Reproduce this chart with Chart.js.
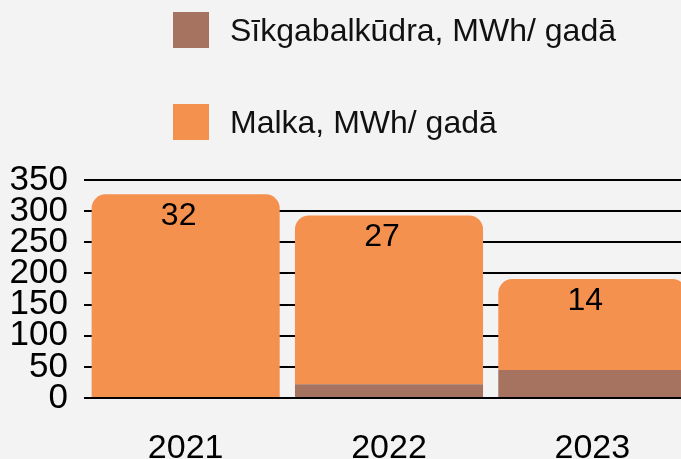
<!DOCTYPE html>
<html>
<head>
<meta charset="utf-8">
<script src="https://cdn.jsdelivr.net/npm/chart.js@4/dist/chart.umd.min.js"></script>
<style>
  body { margin: 0; background: #f3f3f3; overflow: hidden; font-family: "Liberation Sans", Arial, sans-serif; }
  #wrap { position: relative; width: 700px; height: 459px; }
  #legend { position: absolute; left: 0; top: 0; }
  .item { position: absolute; left: 173px; height: 36px; display: flex; align-items: center; white-space: nowrap; }
  .item span.box { width: 36px; height: 36px; display: inline-block; margin-right: 21px; }
  .item span.txt { font-size: 32px; color: #111; }
</style>
</head>
<body>
<div id="wrap">
  <canvas id="energyChart" width="700" height="459"></canvas>
  <div id="legend"></div>
</div>
<script>
const years = ["2021", "2022", "2023"];
const kudraValues = [0, 22, 45];
const malkaValues = [327, 271, 146];
const malkaLabels = ["32", "27", "14"];
const yTicks = [0, 50, 100, 150, 200, 250, 300, 350];

const ctx = document.getElementById("energyChart").getContext("2d");

// value labels on the top segment (clipped like in the source)
const topLabels = {
  id: "topLabels",
  afterDatasetsDraw(chart) {
    const meta = chart.getDatasetMeta(1);
    const c = chart.ctx;
    c.save();
    c.font = '32px "Liberation Sans", Arial, sans-serif';
    c.fillStyle = "#000";
    c.textAlign = "center";
    c.textBaseline = "middle";
    meta.data.forEach((bar, i) => {
      c.fillText(malkaLabels[i], bar.x - 7, bar.y + 22);
    });
    c.restore();
  },
};

const chart = new Chart(ctx, {
  type: "bar",
  data: {
    labels: years,
    datasets: [
      {
        label: "Sīkgabalkūdra, MWh/ gadā",
        data: kudraValues,
        backgroundColor: "#a5735f",
        borderRadius: 0,
      },
      {
        label: "Malka, MWh/ gadā",
        data: malkaValues,
        backgroundColor: "#f5914f",
        borderRadius: { topLeft: 14, topRight: 14, bottomLeft: 0, bottomRight: 0 },
        borderSkipped: false,
      },
    ],
  },
  options: {
    responsive: false,
    animation: false,
    layout: {
      padding: { top: 180, right: 6, bottom: 0, left: 0 },
    },
    datasets: {
      bar: {
        categoryPercentage: 1,
        barPercentage: 0.925,
      },
    },
    plugins: {
      legend: { display: false },
      tooltip: { enabled: false },
    },
    scales: {
      x: {
        stacked: true,
        grid: { display: false, drawTicks: false },
        border: { display: false },
        ticks: {
          color: "#000",
          padding: 30,
          font: { size: 34, family: '"Liberation Sans", Arial, sans-serif' },
        },
        afterFit(scale) {
          scale.height = 61;
        },
      },
      y: {
        stacked: true,
        min: 0,
        max: 350,
        afterBuildTicks(scale) {
          scale.ticks = yTicks.map((v) => ({ value: v }));
        },
        grid: { color: "#000", lineWidth: 2, drawTicks: false },
        border: { display: false },
        ticks: {
          color: "#000",
          padding: 16,
          autoSkip: false,
          font: { size: 35, family: '"Liberation Sans", Arial, sans-serif' },
        },
        afterFit(scale) {
          scale.width = 84;
        },
      },
    },
  },
  plugins: [topLabels],
});

// Legend built from the datasets, stacked on two rows
const legendEl = document.getElementById("legend");
const rowTops = [12, 104];
chart.data.datasets.forEach((ds, i) => {
  const item = document.createElement("div");
  item.className = "item";
  item.style.top = rowTops[i] + "px";
  item.innerHTML =
    '<span class="box" style="background:' + ds.backgroundColor + '"></span>' +
    '<span class="txt">' + ds.label + "</span>";
  legendEl.appendChild(item);
});
</script>
</body>
</html>
